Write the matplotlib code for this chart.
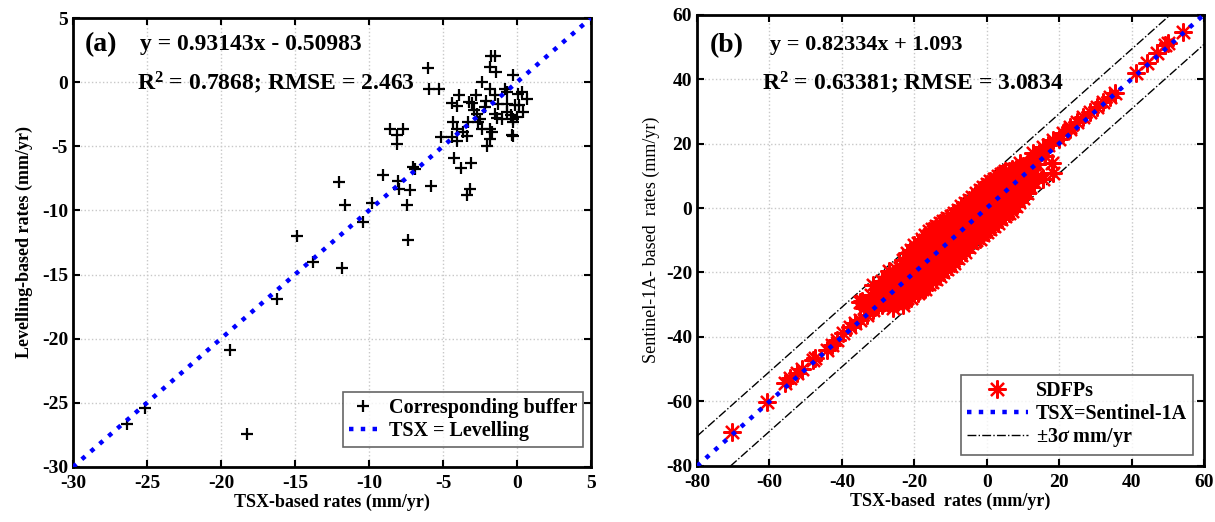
import numpy as np
import matplotlib
matplotlib.use("Agg")
import matplotlib.pyplot as plt

plt.rcParams['font.family'] = ['Liberation Serif', 'DejaVu Serif']
plt.rcParams['font.weight'] = 'bold'
plt.rcParams['axes.unicode_minus'] = False
plt.rcParams['mathtext.fontset'] = 'custom'
plt.rcParams['mathtext.rm'] = 'Liberation Serif:bold'
plt.rcParams['mathtext.bf'] = 'Liberation Serif:bold'
plt.rcParams['mathtext.it'] = 'Liberation Serif:italic:bold'
plt.rcParams['mathtext.default'] = 'bf'

# ---- panel (a): TSX vs levelling
tsx_a = [-1.76, -1.49, -6.01, -1.82, -1.42, -0.27, -5.95, -5.27, -2.36, -1.82,
         -3.92, -2.77, -1.49, -0.81, -0.68, 0.07, 0.34, 0.68, -4.39, -4.05,
         -3.24, -3.04, -2.09, -2.16, -1.28, -0.68, -0.14, 0.14, 0.41, -2.91,
         -2.70, -1.49, -1.35, -1.01, -0.68, -0.41, -0.27, 0.00, -0.27, -2.50,
         -2.64, -4.32, -3.31, -2.36, -1.82, -1.69, -4.05, -3.65, -5.14, -4.39,
         -4.05, -3.38, -1.82, -2.03, -0.34, -0.27, -8.58, -7.70, -8.11, -8.11,
         -4.26, -3.78, -3.11, -7.03, -6.89, -9.05, -8.04, -7.23, -7.97, -5.81,
         -3.18, -3.38, -7.43, -12.03, -11.62, -9.80, -10.41, -7.36, -14.86, -13.78,
         -11.82, -16.22, -19.39, -25.14, -26.35, -18.24]
lev_a = [2.05, 2.05, 1.11, 1.19, 0.80, 0.57, -0.52, -0.52, 0.02, -0.52,
         -0.99, -0.99, -0.99, -0.52, -0.76, -0.91, -0.76, -1.30, -1.61, -1.85,
         -1.54, -1.61, -1.46, -1.93, -1.69, -1.69, -1.77, -1.77, -2.31, -2.16,
         -2.47, -2.47, -2.78, -2.86, -2.31, -2.55, -2.86, -2.70, -3.09, -2.86,
         -3.09, -3.09, -3.09, -3.64, -3.64, -3.87, -3.64, -3.87, -4.26, -4.26,
         -4.58, -4.19, -4.42, -4.96, -4.11, -4.19, -3.64, -3.64, -4.11, -4.81,
         -5.90, -6.68, -6.29, -6.60, -6.76, -7.23, -7.69, -8.39, -8.32, -8.08,
         -8.32, -8.79, -9.61, -7.77, -9.56, -9.41, -10.89, -12.29, -11.98, -14.01,
         -14.48, -16.89, -20.87, -25.38, -26.63, -27.41]

# ---- panel (b): TSX vs Sentinel-1A
# dense core, read column by column (x value -> y values)
core_x = [-34, -32, -30, -28, -26, -24, -22, -20, -18, -16, -14, -12, -10, -8,
          -6, -4, -2, 0, 2, 4, 6, 8, 10, 12, 14,
          -29, -27, -25, -23, -21, -19, -17, -15, -13, -11, -9, -7,
          -5, -3, -1, 1, 3, 5, 7, 9, 11, 13]
core_y = [[-31, -29.5], [-29, -27], [-29, -27, -25], [-29, -27, -25, -23],
          [-29, -26.5, -24, -21], [-28.5, -26, -23.5, -21, -18.5],
          [-28, -25.5, -23, -20.5, -18, -15.5, -14],
          [-26.5, -24, -21.5, -19, -16.5, -14, -11.5],
          [-25, -22.5, -20, -17.5, -15, -12.5, -9.5],
          [-23.5, -21, -18.5, -16, -13.5, -11, -8.5, -7],
          [-22, -19, -16.5, -14, -11.5, -9, -6.5, -5.5],
          [-20, -17, -14, -11.5, -9, -7, -4],
          [-18, -14.5, -12, -9.5, -7, -5, -2.5],
          [-15.5, -12.5, -10, -7.5, -5, -3, -0.5],
          [-13.5, -10, -7.5, -5, -2.5, 1.5],
          [-11, -7.5, -5, -2.5, 0, 3.5],
          [-9.5, -6, -3.5, -1, 1.5, 5.5],
          [-7.5, -4, -1.5, 1, 3.5, 7.5],
          [-5.5, -2, 0.5, 3, 5.5, 9],
          [-3.5, 0, 2.5, 5, 7.5, 10.5],
          [-1.5, 2, 4.5, 7, 9.5, 11.5],
          [0.5, 4, 6.5, 9, 12],
          [3, 6.5, 9, 13],
          [6.5, 10, 13.5],
          [10, 13.5],
          [-30, -27.5, -25, -22.5],
          [-29.5, -27, -24.5, -22, -19.5],
          [-29.5, -27, -24.5, -22, -19],
          [-29, -26.5, -24, -21.5, -19, -16],
          [-28, -25.5, -23, -20.5, -18, -15.5, -13],
          [-26.5, -24, -21.5, -19, -16.5, -14, -11],
          [-25, -22.5, -20, -17.5, -15, -12.5, -10, -8.5],
          [-23, -20.5, -18, -15.5, -13, -10.5, -8, -6.5],
          [-21, -18.5, -16, -13.5, -11, -8.5, -6, -4.5],
          [-19, -16.5, -14, -11.5, -9, -6.5, -4, -3],
          [-17, -14.5, -12, -9.5, -7, -4.5, -1.5],
          [-14.5, -12, -9.5, -7, -4.5, -2, 0.5],
          [-12, -9.5, -7, -4.5, -2, 0.5, 2.5],
          [-10, -7.5, -5, -2.5, 0, 2.5, 4.5],
          [-8.5, -6, -3.5, -1, 1.5, 4, 6.5],
          [-6.5, -4, -1.5, 1, 3.5, 6, 8.5],
          [-4.5, -2, 0.5, 3, 5.5, 8, 10],
          [-2.5, 0, 2.5, 5, 7.5, 10, 11.5],
          [-1, 1.5, 4, 6.5, 9, 12],
          [2, 4.5, 7, 9.5, 12.5],
          [4.5, 7, 9.5, 12, 13.5],
          [8, 10.5, 13.5]]
# scattered points along the 1:1 line and outliers
tsx_b = [-70.4, -60.8, -55.8, -54.4, -52.5, -51.0, -48.1, -47.5, -44.2, -42.8,
         -41.4, -39.8, -37.8, -36.5, -35.1, -33.1, -31.5, -30.1, -31.5, -34.5,
         -35.1, -26.0, -23.0, 4.4, 9.1, 12.7, 15.5, 18.2, 21.0, 22.9, 24.9,
         26.5, 28.5, 30.4, 32.0, 34.0, 35.4, 41.2, 44.2, 47.0, 49.2, 50.0,
         54.1, 15.5, 18.0, 18.2, 16.0, 13.0, 11.0, 14.5, 17.0, 20.0, 23.0]
s1a_b = [-69.5, -60.2, -54.3, -52.7, -51.2, -50.0, -47.1, -46.5, -44.0, -42.5,
         -40.9, -38.8, -36.9, -35.7, -34.7, -33.2, -31.6, -30.1, -23.9, -28.8,
         -29.1, -31.0, -30.0, 10.9, 14.0, 17.0, 19.0, 21.0, 23.3, 25.1, 26.7,
         28.2, 29.8, 31.3, 32.9, 34.4, 35.7, 41.9, 45.0, 48.0, 50.5, 51.2,
         54.6, 9.0, 14.0, 10.9, 16.0, 15.0, 12.5, 17.0, 19.5, 21.5, 24.5]
sigma3 = 9.25

core_px = [x for x, ys in zip(core_x, core_y) for _ in ys]
core_py = [y for ys in core_y for y in ys]
sx = np.array(core_px + tsx_b)
sy = np.array(core_py + s1a_b)

fig = plt.figure(figsize=(12.15, 5.22), dpi=100)
ax1 = fig.add_axes([0.060, 0.1054, 0.4264, 0.8601])
ax2 = fig.add_axes([0.5737, 0.1073, 0.4173, 0.8649])

def style(ax):
    ax.grid(True, linestyle=':', color='#c8c8c8', linewidth=1)
    ax.set_axisbelow(True)
    ax.tick_params(direction='in', top=True, right=True, length=5, width=1.5,
                   labelsize=14)
    ax.tick_params(axis='x', pad=6)
    for s in ax.spines.values():
        s.set_linewidth(2)
    for lab in ax.get_xticklabels() + ax.get_yticklabels():
        lab.set_fontweight('bold')

# panel (a)
ax1.plot(tsx_a, lev_a, '+', color='black', markersize=9, markeredgewidth=1.6,
         label='Corresponding buffer', zorder=3)
ax1.plot([-30, 5], [-30, 5], ':', color='#0000ff', linewidth=3.2,
         label='TSX = Levelling', zorder=4)
ax1.set_xlim(-30, 5)
ax1.set_ylim(-30, 5)
ax1.set_xticks(np.arange(-30, 6, 5))
ax1.set_yticks(np.arange(-30, 6, 5))
style(ax1)
ax1.set_xlabel('TSX-based rates (mm/yr)', fontsize=13, fontweight='bold', labelpad=1)
ax1.set_ylabel('Levelling-based rates (mm/yr)', fontsize=13, fontweight='bold', labelpad=6)
ax1.text(0.022, 0.94, '(a)', transform=ax1.transAxes, fontsize=20,
         fontweight='bold', va='center')
ax1.text(0.129, 0.94, 'y = 0.93143x - 0.50983', transform=ax1.transAxes,
         fontsize=17, fontweight='bold', va='center')
ax1.text(0.124, 0.855, 'R$^{2}$ = 0.7868; RMSE = 2.463', transform=ax1.transAxes,
         fontsize=17, fontweight='bold', va='center')
leg1 = ax1.legend(loc='lower right', bbox_to_anchor=(0.985, 0.045), borderaxespad=0,
                  fontsize=14.5, frameon=True, fancybox=False, edgecolor='#404040',
                  handlelength=1.4, handletextpad=0.6, labelspacing=0.15,
                  borderpad=0.3)
leg1.get_frame().set_linewidth(1.2)
for t in leg1.get_texts():
    t.set_fontweight('bold')

# panel (b)
xx = np.array([-80, 60])
ax2.plot(sx, sy, linestyle='none', marker=(8, 2, 0), color='#ff0000',
         markersize=13, markeredgewidth=1.6, label='SDFPs', zorder=3)
ax2.plot(xx, xx, ':', color='#0000ff', linewidth=3.2, label='TSX=Sentinel-1A', zorder=4)
ax2.plot(xx, xx + sigma3, '-.', color='black', linewidth=1.0,
         label='$\\pm$3$\\mathit{\\sigma}$ mm/yr', zorder=2)
ax2.plot(xx, xx - sigma3, '-.', color='black', linewidth=1.0, zorder=2)
ax2.set_xlim(-80, 60)
ax2.set_ylim(-80, 60)
ax2.set_xticks(np.arange(-80, 61, 20))
ax2.set_yticks(np.arange(-80, 61, 20))
style(ax2)
ax2.set_xlabel('TSX-based  rates (mm/yr)', fontsize=13, fontweight='bold', labelpad=1)
ax2.set_ylabel('Sentinel-1A- based  rates (mm/yr)', fontsize=13, fontweight='normal',
               labelpad=4)
ax2.text(0.026, 0.932, '(b)', transform=ax2.transAxes, fontsize=20,
         fontweight='bold', va='center')
ax2.text(0.144, 0.932, 'y = 0.82334x + 1.093', transform=ax2.transAxes,
         fontsize=16, fontweight='bold', va='center')
ax2.text(0.128, 0.848, 'R$^{2}$ = 0.63381; RMSE = 3.0834', transform=ax2.transAxes,
         fontsize=17, fontweight='bold', va='center')
leg2 = ax2.legend(loc='lower right', bbox_to_anchor=(0.978, 0.024), borderaxespad=0,
                  fontsize=14.5, frameon=True, fancybox=False, edgecolor='#404040',
                  handlelength=3.0, handletextpad=0.4, labelspacing=0.12,
                  borderpad=0.3)
leg2.get_frame().set_linewidth(1.2)
for t in leg2.get_texts():
    t.set_fontweight('bold')

fig.savefig('out.png', dpi=100)
